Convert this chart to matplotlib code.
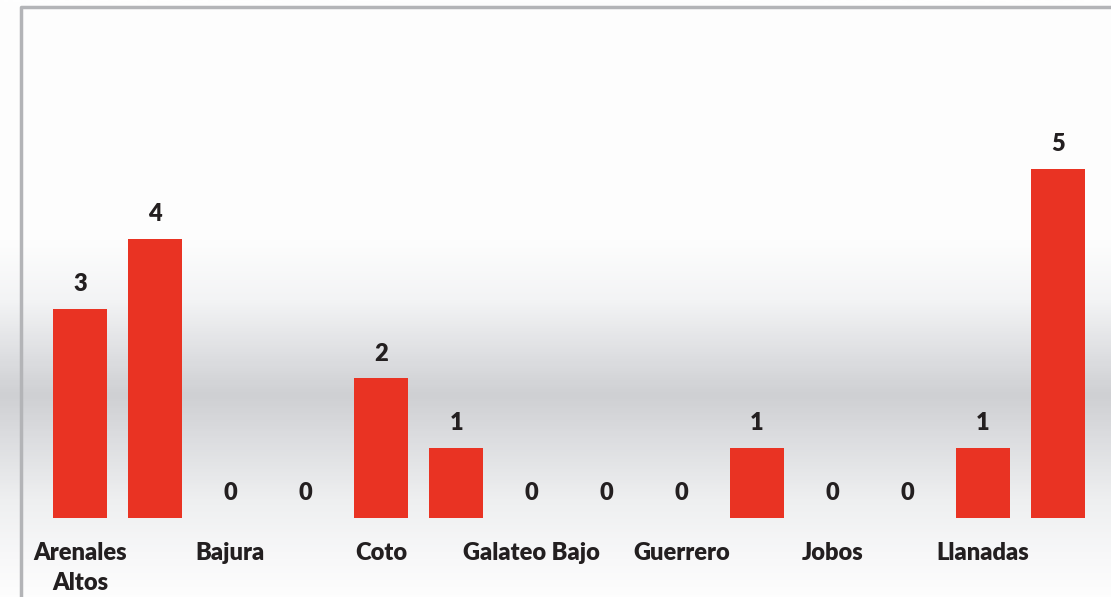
import matplotlib.pyplot as plt
import numpy as np
from matplotlib.colors import LinearSegmentedColormap

# barrios (only every other name is shown on the axis, like the original)
barrios = ['Arenales\nAltos', 'Arenales Bajos', 'Bajura', 'Bejucos', 'Coto',
           'Galateo Alto', 'Galateo Bajo', 'Guayabos', 'Guerrero', 'Isabela Pueblo',
           'Jobos', 'Jobos Playa', 'Llanadas', 'Mora']
casos = [3, 4, 0, 0, 2, 1, 0, 0, 0, 1, 0, 0, 1, 5]

plt.rcParams['font.family'] = ['Lato', 'DejaVu Sans']

W, H = 1111, 597
fig = plt.figure(figsize=(W / 100, H / 100), dpi=100)

# background gradient (white -> grey band -> white)
bg = fig.add_axes([0, 0, 1, 1])
stops = [(0.0, '#fefefe'), (240 / H, '#fdfdfd'), (300 / H, '#f3f4f5'),
         (360 / H, '#dcdde0'), (395 / H, '#cfd0d3'), (440 / H, '#dcdde0'),
         (500 / H, '#eeeff0'), (560 / H, '#f8f8f9'), (1.0, '#fdfdfd')]
cmap = LinearSegmentedColormap.from_list('bg', stops)
grad = np.linspace(0, 1, 600).reshape(-1, 1)
bg.imshow(grad, cmap=cmap, aspect='auto', extent=[0, W, H, 0])
bg.set_xlim(0, W)
bg.set_ylim(H, 0)
bg.axis('off')
# chart frame
bg.plot([21, 21, W], [H, 7, 7], color='#b3b4b7', lw=2.5, solid_capstyle='butt')

# plot area: bar centres 80 .. 1058 px, baseline at 518 px, 69.8 px per unit
step = (1058 - 80) / 13
left = 80 - step / 2
right = 1058 + step / 2
unit = 69.8
top = 518 - 6 * unit
ax = fig.add_axes([left / W, (H - 518) / H, (right - left) / W, (518 - top) / H])
ax.patch.set_alpha(0)

x = np.arange(len(casos))
bars = ax.bar(x, casos, width=0.72, color='#e93323')
for b, v in zip(bars, casos):
    ax.annotate(str(v), (b.get_x() + b.get_width() / 2, v), xytext=(0, 10),
                textcoords='offset points', ha='center', va='bottom',
                fontsize=17, fontweight='heavy', color='#231f20')

ax.set_xlim(-0.5, len(casos) - 0.5)
ax.set_ylim(0, 6)
ax.set_xticks(x[::2])
ax.set_xticklabels(barrios[::2], fontsize=17, fontweight='heavy', color='#231f20',
                   linespacing=1.45)
ax.tick_params(axis='x', length=0, pad=17)
ax.set_yticks([])
for s in ax.spines.values():
    s.set_visible(False)

fig.savefig('out.png', dpi=100)
